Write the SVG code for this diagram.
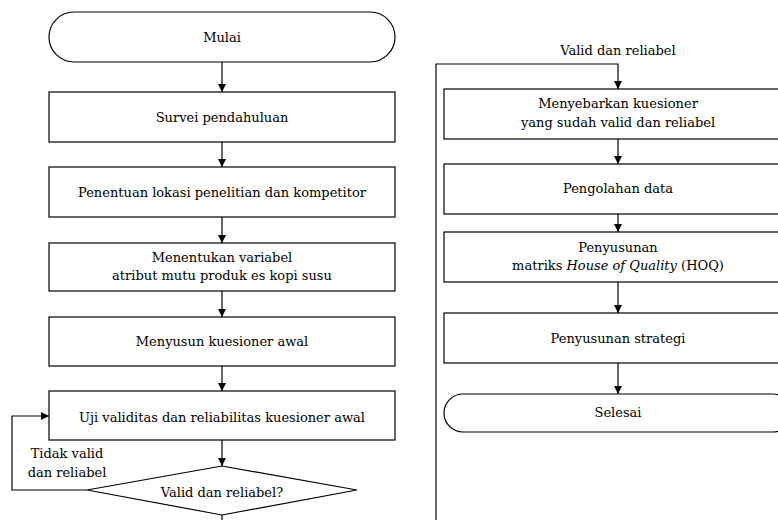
<svg xmlns="http://www.w3.org/2000/svg" width="778" height="520" viewBox="0 0 778 520">
<style>
.s{fill:#fff;stroke:#000;stroke-width:1.2}
.c{fill:none;stroke:#000;stroke-width:1.2}
</style>
<defs>
<marker id="a" viewBox="0 0 10 10" refX="10" refY="5" markerWidth="8" markerHeight="9" markerUnits="userSpaceOnUse" orient="auto">
<path d="M0,0 L10,5 L0,10 z" fill="#000"/>
</marker>
</defs>
<rect width="778" height="520" fill="#fff"/>
<g font-family="DejaVu Serif, serif" font-size="13" text-anchor="middle" fill="#000">
<g id="connectors">
<path class="c" d="M222,62 V92" marker-end="url(#a)"/>
<path class="c" d="M222,142 V167" marker-end="url(#a)"/>
<path class="c" d="M222,217 V243" marker-end="url(#a)"/>
<path class="c" d="M222,291 V317" marker-end="url(#a)"/>
<path class="c" d="M222,366 V391" marker-end="url(#a)"/>
<path class="c" d="M222,440 V466" marker-end="url(#a)"/>
<path class="c" d="M87,490 H12 V416 H49" marker-end="url(#a)"/>
<path class="c" d="M222,515 V522"/>
<path class="c" d="M436,522 V64 H618 V89" marker-end="url(#a)"/>
<path class="c" d="M618,139 V164" marker-end="url(#a)"/>
<path class="c" d="M618,214 V232" marker-end="url(#a)"/>
<path class="c" d="M618,282 V313" marker-end="url(#a)"/>
<path class="c" d="M618,363 V394" marker-end="url(#a)"/>
<text x="67" y="458">Tidak valid</text>
<text x="67" y="477">dan reliabel</text>
<text x="618" y="55">Valid dan reliabel</text>
</g>
<g id="mulai"><rect class="s" x="49" y="12" width="346" height="50" rx="25"/><text x="222" y="42">Mulai</text></g>
<g id="survei"><rect class="s" x="49" y="92" width="346" height="50"/><text x="222" y="122">Survei pendahuluan</text></g>
<g id="penentuan"><rect class="s" x="49" y="167" width="346" height="50"/><text x="222" y="197">Penentuan lokasi penelitian dan kompetitor</text></g>
<g id="menentukan"><rect class="s" x="49" y="243" width="346" height="48"/><text x="222" y="262">Menentukan variabel</text><text x="222" y="280">atribut mutu produk es kopi susu</text></g>
<g id="menyusun"><rect class="s" x="49" y="317" width="346" height="49"/><text x="222" y="346">Menyusun kuesioner awal</text></g>
<g id="uji"><rect class="s" x="49" y="391" width="346" height="49"/><text x="222" y="422">Uji validitas dan reliabilitas kuesioner awal</text></g>
<g id="valid"><path class="s" d="M222,466 L357,490 L222,515 L87,490 Z"/><text x="222" y="497">Valid dan reliabel?</text></g>
<g id="menyebarkan"><rect class="s" x="444" y="89" width="348" height="50"/><text x="618" y="108">Menyebarkan kuesioner</text><text x="618" y="127">yang sudah valid dan reliabel</text></g>
<g id="pengolahan"><rect class="s" x="444" y="164" width="348" height="50"/><text x="618" y="193">Pengolahan data</text></g>
<g id="hoq"><rect class="s" x="444" y="232" width="348" height="50"/><text x="618" y="252">Penyusunan</text><text x="618" y="270">matriks <tspan font-style="italic">House of Quality</tspan> (HOQ)</text></g>
<g id="strategi"><rect class="s" x="444" y="313" width="348" height="50"/><text x="618" y="343">Penyusunan strategi</text></g>
<g id="selesai"><rect class="s" x="444" y="394" width="348" height="38" rx="19"/><text x="618" y="417">Selesai</text></g>
</g>
</svg>
